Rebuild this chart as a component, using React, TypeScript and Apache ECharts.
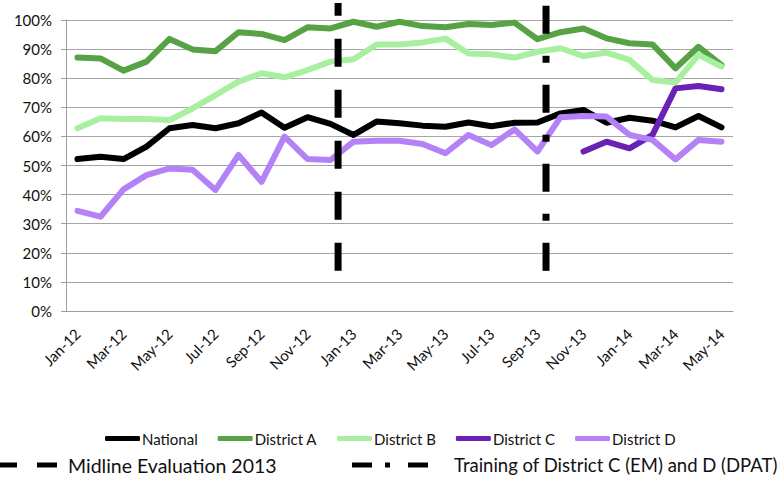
import React, { useEffect, useRef } from "react";
import * as echarts from "echarts";

const months = [
  "Jan-12", "Feb-12", "Mar-12", "Apr-12", "May-12", "Jun-12", "Jul-12", "Aug-12", "Sep-12", "Oct-12", "Nov-12", "Dec-12",
  "Jan-13", "Feb-13", "Mar-13", "Apr-13", "May-13", "Jun-13", "Jul-13", "Aug-13", "Sep-13", "Oct-13", "Nov-13", "Dec-13",
  "Jan-14", "Feb-14", "Mar-14", "Apr-14", "May-14",
];

const national = [52.2, 53.0, 52.2, 56.5, 62.8, 63.9, 62.8, 64.5, 68.2, 63.0, 66.6, 64.3, 60.5, 65.1, 64.5, 63.7, 63.3, 64.8, 63.5, 64.7, 64.8, 67.9, 69.1, 64.7, 66.4, 65.4, 63.1, 67.0, 63.1];
const districtA = [87.1, 86.8, 82.6, 85.7, 93.5, 89.9, 89.3, 95.8, 95.2, 93.1, 97.5, 97.1, 99.4, 97.7, 99.4, 97.9, 97.5, 98.6, 98.3, 99.1, 93.4, 95.8, 97.1, 93.7, 92.0, 91.6, 83.4, 90.8, 84.5];
const districtB = [62.8, 66.2, 66.0, 66.0, 65.6, 69.6, 74.2, 78.8, 81.7, 80.3, 82.8, 85.7, 86.5, 91.6, 91.6, 92.3, 93.6, 88.5, 88.2, 87.1, 89.1, 90.3, 87.6, 88.8, 86.3, 79.4, 78.5, 88.0, 84.0];
const districtC = [null, null, null, null, null, null, null, null, null, null, null, null, null, null, null, null, null, null, null, null, null, null, 54.8, 58.2, 55.9, 60.5, 76.5, 77.3, 76.2];
const districtD = [34.4, 32.4, 41.8, 46.7, 49.0, 48.5, 41.6, 53.6, 44.4, 59.9, 52.2, 51.9, 58.2, 58.5, 58.5, 57.4, 54.2, 60.5, 57.0, 62.4, 54.8, 66.6, 67.0, 66.8, 60.5, 58.8, 52.1, 58.8, 58.2];

const seriesNames = ["National", "District A", "District B", "District C", "District D"];
const seriesColors = ["#000000", "#56a244", "#a8efa0", "#6a22b6", "#b482f6"];
const seriesData = [national, districtA, districtB, districtC, districtD];

const yTicks = [0, 10, 20, 30, 40, 50, 60, 70, 80, 90, 100];

// Event markers (position on month scale, boundary-based) and their extent in %
const midlinePos = 11.83;
const trainingPos = 20.87;
const markerRange = [13.8, 105.8];
const midlineLabel = "Midline Evaluation 2013";
const trainingLabel = "Training of District C (EM) and D (DPAT)";

const FONT = "Lato";

export default function App() {
  const ref = useRef<HTMLDivElement>(null);

  useEffect(() => {
    if (!ref.current) return;
    const chart = echarts.init(ref.current, null, { renderer: "svg" });

    const lineSeries = seriesNames.map((name, i) => ({
      name,
      type: "line",
      xAxisIndex: 0,
      yAxisIndex: 0,
      data: seriesData[i],
      symbol: "none",
      connectNulls: false,
      lineStyle: { color: seriesColors[i], width: 6, cap: "round", join: "round" },
      itemStyle: { color: seriesColors[i] },
      z: 2 + i,
    }));

    const markerSeries = [
      {
        name: "midline",
        type: "line",
        xAxisIndex: 1,
        yAxisIndex: 0,
        data: [
          [midlinePos, markerRange[0]],
          [midlinePos, markerRange[1]],
        ],
        symbol: "none",
        clip: false,
        lineStyle: { color: "#000", width: 7, type: [28, 23], cap: "butt" },
        z: 10,
        silent: true,
      },
      {
        name: "training",
        type: "line",
        xAxisIndex: 1,
        yAxisIndex: 0,
        data: [
          [trainingPos, markerRange[0]],
          [trainingPos, markerRange[1]],
        ],
        symbol: "none",
        clip: false,
        lineStyle: { color: "#000", width: 7, type: [28, 22, 7, 22], cap: "butt" },
        z: 10,
        silent: true,
      },
    ];

    const rowY = 465;
    const option = {
      animation: false,
      backgroundColor: "#ffffff",
      grid: { left: 66, right: 51, top: 20, bottom: 171, containLabel: false },
      legend: {
        data: seriesNames,
        left: 100,
        top: 426,
        icon: "roundRect",
        itemWidth: 35,
        itemHeight: 5,
        itemGap: 20,
        textStyle: { fontFamily: FONT, fontSize: 15, color: "#111", padding: [0, 0, 0, -3] },
        selectedMode: false,
      },
      xAxis: [
        {
          type: "category",
          data: months,
          boundaryGap: true,
          axisLine: { lineStyle: { color: "#9e9e9e", width: 1 } },
          axisTick: { interval: 1, length: 7, lineStyle: { color: "#9e9e9e" } },
          axisLabel: {
            interval: 1,
            rotate: 45,
            margin: 20,
            fontFamily: FONT,
            fontSize: 15,
            color: "#111",
            padding: [0, 0, 0, 8],
          },
          splitLine: { show: false },
        },
        {
          type: "value",
          min: 0,
          max: 29,
          show: false,
        },
      ],
      yAxis: {
        type: "value",
        min: 0,
        max: 100,
        interval: 10,
        axisLine: { show: true, lineStyle: { color: "#9e9e9e", width: 1 } },
        axisTick: { show: true, length: 5, lineStyle: { color: "#9e9e9e" } },
        axisLabel: {
          formatter: (v: number) => (yTicks.includes(v) ? `${v}%` : ""),
          fontFamily: FONT,
          fontSize: 15,
          color: "#111",
          margin: 14,
        },
        splitLine: { show: true, lineStyle: { color: "#a6a6a6", width: 1 } },
      },
      series: [...lineSeries, ...markerSeries],
      graphic: [
        { type: "rect", shape: { x: 0, y: rowY - 2.5, width: 17, height: 5 }, style: { fill: "#000" } },
        { type: "rect", shape: { x: 37, y: rowY - 2.5, width: 20, height: 5 }, style: { fill: "#000" } },
        {
          type: "text",
          x: 68,
          y: rowY,
          style: { text: midlineLabel, fontFamily: FONT, fontSize: 19.5, fill: "#111", verticalAlign: "middle" },
        },
        { type: "rect", shape: { x: 352, y: rowY - 2.5, width: 20, height: 5 }, style: { fill: "#000" } },
        { type: "rect", shape: { x: 385, y: rowY - 2.5, width: 5, height: 5 }, style: { fill: "#000" } },
        { type: "rect", shape: { x: 408, y: rowY - 2.5, width: 20, height: 5 }, style: { fill: "#000" } },
        {
          type: "text",
          x: 454,
          y: rowY,
          style: { text: trainingLabel, fontFamily: FONT, fontSize: 18.5, fill: "#111", verticalAlign: "middle" },
        },
      ],
    };

    chart.setOption(option as any);
    return () => chart.dispose();
  }, []);

  return (
    <div
      ref={ref}
      style={{ position: "absolute", left: 0, top: 0, width: 784, height: 482 }}
    />
  );
}
